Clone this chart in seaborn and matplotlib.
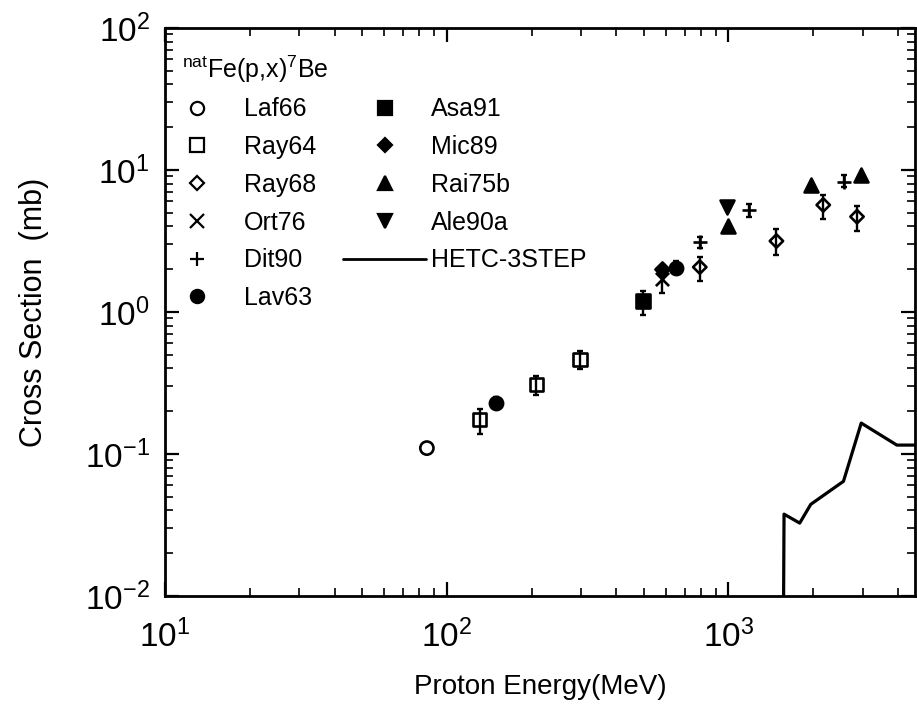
import matplotlib
matplotlib.use("Agg")
import matplotlib.pyplot as plt
from matplotlib.lines import Line2D
from matplotlib.ticker import NullFormatter, LogLocator
import seaborn as sns

# Proton energies (MeV), cross sections (mb) and error-bar limits per data set
laf66_e = [85]
laf66_s = [0.11]

ray64_e = [131, 208, 297]
ray64_s = [0.175, 0.31, 0.465]
ray64_lo = [0.139, 0.261, 0.395]
ray64_hi = [0.208, 0.355, 0.53]

ray68_e = [791, 1480, 2170, 2860]
ray68_s = [2.07, 3.16, 5.67, 4.69]
ray68_lo = [1.64, 2.52, 4.5, 3.74]
ray68_hi = [2.44, 3.84, 6.7, 5.6]

ort76_e = [580]
ort76_s = [1.72]
ort76_lo = [1.36]
ort76_hi = [2.05]

dit90_e = [790, 1180, 2580]
dit90_s = [3.09, 5.24, 8.27]
dit90_lo = [2.81, 4.7, 7.57]
dit90_hi = [3.36, 5.77, 9.25]

lav63_e = [150, 650]
lav63_s = [0.23, 2.05]
lav63_lo = [0.21, 1.85]
lav63_hi = [0.25, 2.3]

asa91_e = [498]
asa91_s = [1.2]
asa91_lo = [0.955]
asa91_hi = [1.41]

mic89_e = [580]
mic89_s = [2.0]

rai75b_e = [1000, 1970, 2960]
rai75b_s = [4.03, 7.78, 9.28]

ale90a_e = [990]
ale90a_s = [5.49]

hetc_e = [1560, 1575, 1790, 1960, 2560, 2960, 3960, 4700]
hetc_s = [1e-3, 0.0377, 0.0326, 0.0442, 0.0642, 0.165, 0.1155, 0.1155]

sns.set_theme(style="ticks")
plt.rcParams.update({
    "font.family": ["Liberation Sans", "DejaVu Sans"],
    "mathtext.fontset": "custom",
    "mathtext.rm": "Liberation Sans",
    "mathtext.default": "regular",
    "axes.unicode_minus": False,
    "axes.linewidth": 2.0,
    "axes.edgecolor": "black",
    "text.color": "black",
    "axes.labelcolor": "black",
    "xtick.color": "black",
    "ytick.color": "black",
})

fig = plt.figure(figsize=(9.17, 7.10), dpi=100)
ax = fig.add_axes([0.18, 0.1606, 0.818, 0.80])
ax.set_xscale("log")
ax.set_yscale("log")
ax.set_xlim(10, 4600)
ax.set_ylim(1e-2, 1e2)

# (energies, values, lower, upper, marker, size, filled, label)
sets = [
    (laf66_e, laf66_s, None, None, "o", 9.5, False, "Laf66"),
    (ray64_e, ray64_s, ray64_lo, ray64_hi, "s", 9.5, False, "Ray64"),
    (ray68_e, ray68_s, ray68_lo, ray68_hi, "D", 6.8, False, "Ray68"),
    (ort76_e, ort76_s, ort76_lo, ort76_hi, "x", 9.5, True, "Ort76"),
    (dit90_e, dit90_s, dit90_lo, dit90_hi, "+", 10.0, True, "Dit90"),
    (lav63_e, lav63_s, lav63_lo, lav63_hi, "o", 9.5, True, "Lav63"),
    (asa91_e, asa91_s, asa91_lo, asa91_hi, "s", 10.0, True, "Asa91"),
    (mic89_e, mic89_s, None, None, "D", 7.2, True, "Mic89"),
    (rai75b_e, rai75b_s, None, None, "^", 10.0, True, "Rai75b"),
    (ale90a_e, ale90a_s, None, None, "v", 10.0, True, "Ale90a"),
]

handles = []
for e, s, lo, hi, mk, ms, filled, lab in sets:
    if lo is not None:
        yerr = [[v - l for v, l in zip(s, lo)], [h - v for v, h in zip(s, hi)]]
        ax.errorbar(e, s, yerr=yerr, fmt="none", ecolor="black",
                    elinewidth=1.7, capsize=2.5, capthick=1.7, zorder=2)
    face = "black" if filled else "none"
    sns.scatterplot(x=e, y=s, ax=ax, marker=mk, s=ms ** 2,
                    facecolor=face, edgecolor="black", color="black",
                    linewidth=1.9, zorder=3, legend=False)
    handles.append(Line2D([], [], linestyle="none", marker=mk, markersize=ms,
                          markerfacecolor=face, markeredgecolor="black",
                          markeredgewidth=1.6, color="black", label=lab))

sns.lineplot(x=hetc_e, y=hetc_s, ax=ax, color="black", linewidth=2.3,
             sort=False, estimator=None, zorder=4)
handles.append(Line2D([], [], color="black", linewidth=2.0, label="HETC-3STEP"))

ax.legend(handles=handles, ncol=2, loc="upper left",
          bbox_to_anchor=(-0.012, 0.878), frameon=False, fontsize=18,
          handlelength=3.3, handletextpad=0.2, columnspacing=1.1,
          labelspacing=0.55, borderaxespad=0, borderpad=0)

ax.text(0.0227, 0.912, r"$^{nat}$Fe(p,x)$^{7}$Be", transform=ax.transAxes,
        fontsize=18, ha="left", va="baseline")

ax.xaxis.set_minor_locator(LogLocator(base=10, subs=range(2, 10), numticks=20))
ax.yaxis.set_minor_locator(LogLocator(base=10, subs=range(2, 10), numticks=20))
ax.xaxis.set_minor_formatter(NullFormatter())
ax.yaxis.set_minor_formatter(NullFormatter())
ax.tick_params(which="both", direction="in", top=True, right=True)
ax.tick_params(which="major", length=10, width=1.6, labelsize=24)
ax.tick_params(which="minor", length=5.5, width=1.2)
ax.tick_params(axis="x", which="major", pad=17)
ax.tick_params(axis="y", which="major", pad=11)

ax.set_xlabel("Proton Energy(MeV)", fontsize=20, labelpad=14)
ax.set_ylabel("Cross Section  (mb)", fontsize=22, labelpad=26)

fig.savefig("out.png", dpi=100)
